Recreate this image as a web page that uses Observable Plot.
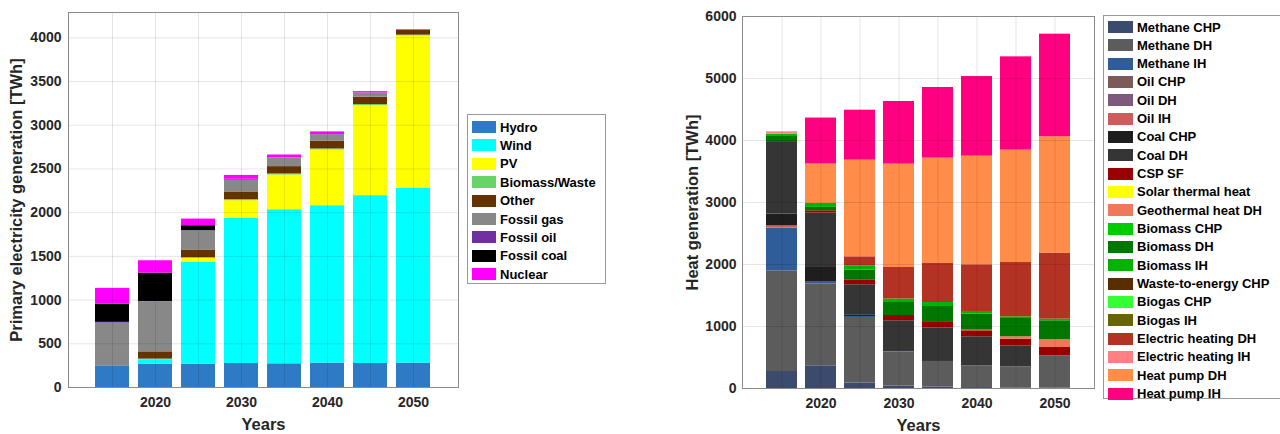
<!DOCTYPE html>
<html><head><meta charset="utf-8">
<script src="https://cdn.jsdelivr.net/npm/d3@7"></script>
<script src="https://cdn.jsdelivr.net/npm/@observablehq/plot@0.6"></script>
<style>
body{margin:0;background:#fff;}
#wrap{position:relative;width:1280px;height:434px;overflow:hidden;font-family:"Liberation Sans",Arial,sans-serif;}
.panel{position:absolute;top:0;}
.legend{position:absolute;border:1px solid #999;background:#fff;box-sizing:border-box;font-weight:bold;font-size:13px;color:#000;}
.legend .row{position:absolute;display:flex;align-items:center;height:14px;white-space:nowrap;}
.legend .sw{height:12px;margin-right:4px;}
</style></head><body><div id="wrap"></div>
<script>
// ---------- shared ----------
const years = [2015, 2020, 2025, 2030, 2035, 2040, 2045, 2050];
const decadeTicks = [2020, 2030, 2040, 2050];

// ---------- electricity (left) ----------
const elecSeries = ["Hydro", "Wind", "PV", "Biomass/Waste", "Other", "Fossil gas", "Fossil oil", "Fossil coal", "Nuclear"];
const elecColors = ["#2f7ac4", "#00ffff", "#ffff00", "#66d466", "#663300", "#888888", "#7030a0", "#000000", "#ff00ff"];
const hydro        = [248, 267, 267, 275, 271, 279, 275, 279];
const wind         = [0, 50, 1164, 1660, 1763, 1801, 1920, 2000];
const pv           = [0, 0, 46, 202, 397, 638, 1030, 1744];
const biomassWaste = [0, 8, 8, 13, 12, 11, 12, 8];
const other        = [0, 83, 88, 87, 84, 88, 84, 53];
const fossilGas    = [489, 573, 221, 137, 99, 76, 49, 4];
const fossilOil    = [8, 3, 0, 2, 0, 0, 0, 0];
const fossilCoal   = [209, 324, 57, 6, 0, 0, 0, 0];
const nuclear      = [180, 142, 76, 44, 34, 31, 15, 7];
const elecValues = [hydro, wind, pv, biomassWaste, other, fossilGas, fossilOil, fossilCoal, nuclear];
const elecYTicks = [0, 500, 1000, 1500, 2000, 2500, 3000, 3500, 4000];

// ---------- heat (right) ----------
const heatSeries = ["Methane CHP", "Methane DH", "Methane IH", "Oil CHP", "Oil DH", "Oil IH", "Coal CHP", "Coal DH",
  "CSP SF", "Solar thermal heat", "Geothermal heat DH", "Biomass CHP", "Biomass DH", "Biomass IH",
  "Waste-to-energy CHP", "Biogas CHP", "Biogas IH", "Electric heating DH", "Electric heating IH", "Heat pump DH", "Heat pump IH"];
const heatColors = ["#3c4a6e", "#5c5c5c", "#2f5d9a", "#7d5a5a", "#7d5a7d", "#cd5c5c", "#1e1e1e", "#353535",
  "#990000", "#ffff00", "#f0785a", "#00cc00", "#007800", "#00b400",
  "#5a2d00", "#33ff33", "#666600", "#b43224", "#ff8080", "#ff8c48", "#ff0080"];
const methaneCHP   = [274, 366, 87, 40, 25, 15, 10, 5];
const methaneDH    = [1624, 1318, 1058, 552, 411, 351, 340, 522];
const methaneIH    = [689, 32, 16, 5, 0, 0, 0, 0];
const oilCHP       = [0, 0, 0, 0, 0, 0, 0, 0];
const oilDH        = [0, 0, 0, 0, 0, 0, 0, 0];
const oilIH        = [35, 0, 0, 0, 0, 0, 0, 0];
const coalCHP      = [191, 236, 28, 0, 0, 0, 0, 0];
const coalDH       = [1155, 877, 484, 495, 538, 468, 338, 0];
const cspSF        = [0, 37, 80, 85, 91, 97, 108, 134];
const solarThermal = [0, 0, 0, 0, 0, 0, 0, 0];
const geothermalDH = [0, 0, 0, 0, 0, 10, 38, 129];
const biomassCHP   = [0, 0, 0, 0, 0, 0, 0, 0];
const biomassDH    = [97, 55, 157, 210, 258, 259, 295, 302];
const biomassIH    = [38, 65, 69, 55, 64, 42, 27, 27];
const wasteCHP     = [0, 0, 0, 0, 0, 0, 0, 0];
const biogasCHP    = [0, 0, 0, 0, 0, 0, 0, 0];
const biogasIH     = [0, 0, 0, 0, 0, 0, 0, 0];
const electricDH   = [0, 0, 145, 510, 629, 753, 876, 1065];
const electricIH   = [37, 0, 0, 0, 0, 0, 0, 0];
const heatPumpDH   = [0, 635, 1560, 1667, 1700, 1753, 1813, 1876];
const heatPumpIH   = [0, 741, 805, 1010, 1139, 1284, 1504, 1655];
const heatValues = [methaneCHP, methaneDH, methaneIH, oilCHP, oilDH, oilIH, coalCHP, coalDH, cspSF, solarThermal,
  geothermalDH, biomassCHP, biomassDH, biomassIH, wasteCHP, biogasCHP, biogasIH, electricDH, electricIH, heatPumpDH, heatPumpIH];
const heatYTicks = [0, 1000, 2000, 3000, 4000, 5000, 6000];

function toLong(names, values) {
  const out = [];
  names.forEach((s, i) => years.forEach((y, j) => out.push({year: y, series: s, value: values[i][j]})));
  return out;
}

function chart(data, names, colors, o) {
  return Plot.plot({
    width: o.width, height: 434,
    marginLeft: o.ml, marginRight: o.mr, marginTop: o.mt, marginBottom: o.mb,
    style: {fontFamily: "'Liberation Sans', Arial, sans-serif", fontSize: "14px", fontWeight: "bold", color: "#262626", background: "transparent"},
    x: {type: "band", domain: years, paddingInner: 0.2, paddingOuter: 0.6},
    y: {domain: [0, o.ymax]},
    color: {domain: names, range: colors},
    marks: [
      Plot.barY(data, {x: "year", y: "value", fill: "series", order: names}),
      Plot.gridY(o.yticks, {stroke: "#000", strokeOpacity: 0.1}),
      Plot.gridX(years, {stroke: "#000", strokeOpacity: 0.1}),
      Plot.frame({stroke: "#8a8a8a"}),
      Plot.axisY(o.yticks, {tickSize: 0, tickPadding: o.tp, tickFormat: d3.format("d"), label: null}),
      Plot.axisX(decadeTicks, {tickSize: 0, tickPadding: 10, tickFormat: d3.format("d"), label: null}),
      Plot.text([o.ylabel], {frameAnchor: "left", dx: o.ldx, rotate: -90, textAnchor: "middle", lineAnchor: "middle", fontSize: 16.5, fill: "#262626"}),
      Plot.text(["Years"], {frameAnchor: "bottom", dy: 31, lineAnchor: "top", textAnchor: "middle", fontSize: 16.5, fill: "#262626"})
    ]
  });
}

function legend(names, colors, o) {
  const box = document.createElement("div");
  box.className = "legend";
  Object.assign(box.style, {left: o.left + "px", top: o.top + "px", width: o.w + "px", height: o.h + "px"});
  names.forEach((n, i) => {
    const row = document.createElement("div");
    row.className = "row";
    row.style.left = o.sx + "px";
    row.style.top = (o.first + i * o.step - 7) + "px";
    const sw = document.createElement("div");
    sw.className = "sw";
    sw.style.width = o.sw + "px";
    sw.style.background = colors[i];
    const t = document.createElement("span");
    t.textContent = n;
    row.append(sw, t);
    box.append(row);
  });
  return box;
}

const wrap = document.getElementById("wrap");

const left = chart(toLong(elecSeries, elecValues), elecSeries, elecColors,
  {width: 460, ml: 68, mr: 2, mt: 12, mb: 47, ymax: 4290, yticks: elecYTicks, tp: 7,
   ylabel: "Primary electricity generation [TWh]", ldx: -51.5});
left.classList.add("panel"); left.style.left = "0px";
wrap.append(left);

const right = chart(toLong(heatSeries, heatValues), heatSeries, heatColors,
  {width: 440, ml: 82, mr: 6, mt: 16, mb: 46, ymax: 6000, yticks: heatYTicks, tp: 6,
   ylabel: "Heat generation [TWh]", ldx: -50});
right.classList.add("panel"); right.style.left = "660px";
wrap.append(right);

wrap.append(legend(elecSeries, elecColors, {left: 467, top: 114, w: 139, h: 170, sx: 4, first: 12, step: 18.4, sw: 24}));
wrap.append(legend(heatSeries, heatColors, {left: 1103, top: 15, w: 182, h: 384, sx: 4, first: 11, step: 18.33, sw: 25}));
</script></body></html>
